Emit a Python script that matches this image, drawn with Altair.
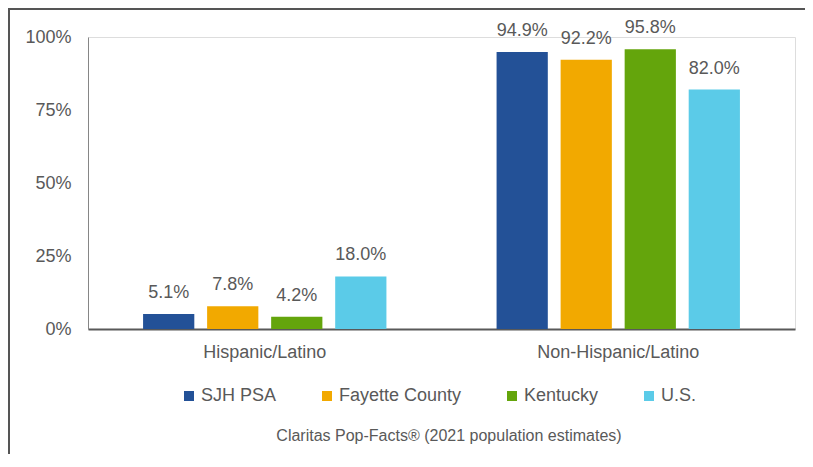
import altair as alt
import pandas as pd

categories = ["Hispanic/Latino", "Non-Hispanic/Latino"]
series = ["SJH PSA", "Fayette County", "Kentucky", "U.S."]
colors = ["#235197", "#F2A900", "#64A50C", "#5BCBE8"]
hispanic = [5.1, 7.8, 4.2, 18.0]
non_hispanic = [94.9, 92.2, 95.8, 82.0]
y_ticks = [0, 25, 50, 75, 100]
source_note = "Claritas Pop-Facts® (2021 population estimates)"

rows = []
for s, h, n in zip(series, hispanic, non_hispanic):
    rows.append({"category": categories[0], "series": s, "value": h})
    rows.append({"category": categories[1], "series": s, "value": n})
df = pd.DataFrame(rows)

W, H = 707, 292
GRAY = "#595959"

base = alt.Chart(df).encode(
    x=alt.X("category:N", sort=categories, title=None,
            scale=alt.Scale(paddingInner=0, paddingOuter=0),
            axis=alt.Axis(labelAngle=0, labelFontSize=18, labelColor=GRAY,
                          labelPadding=14, ticks=False, domainColor=GRAY,
                          domainWidth=2)),
    xOffset=alt.XOffset("series:N", sort=series,
                        scale=alt.Scale(paddingInner=0.2, paddingOuter=0.86)),
    y=alt.Y("value:Q", title=None,
            scale=alt.Scale(domain=[0, 100], nice=False),
            axis=alt.Axis(values=y_ticks, labelExpr="datum.value + '%'",
                          grid=False, ticks=False, labelFontSize=18,
                          labelColor=GRAY, labelPadding=17,
                          domainColor="#868686", domainWidth=1)),
)

bars = base.mark_bar().encode(
    color=alt.Color("series:N", sort=series, title=None,
                    scale=alt.Scale(domain=series, range=colors),
                    legend=alt.Legend(orient="none", legendX=92, legendY=350,
                                      direction="horizontal", symbolType="square",
                                      symbolSize=100, symbolStrokeWidth=0,
                                      labelFontSize=18, labelColor=GRAY,
                                      columnPadding=41, labelOffset=3, padding=0))
)

labels = base.transform_calculate(
    label="format(datum.value, '.1f') + '%'"
).mark_text(fontSize=18, color=GRAY, baseline="alphabetic", dy=-16).encode(
    text="label:N"
)

one = pd.DataFrame({"a": [0]})
left_border = alt.Chart(one).mark_rule(color="#555555", strokeWidth=2).encode(
    x=alt.value(-79), y=alt.value(-29), y2=alt.value(H + 130)
)
top_border = alt.Chart(one).mark_rule(color="#555555", strokeWidth=2).encode(
    x=alt.value(-80), x2=alt.value(W + 10), y=alt.value(-28)
)
note = alt.Chart(one).mark_text(fontSize=16, color=GRAY, align="center",
                                baseline="alphabetic").encode(
    x=alt.value(361), y=alt.value(404), text=alt.value(source_note)
)

chart = alt.layer(bars, labels, left_border, top_border, note).properties(
    width=W, height=H,
    autosize=alt.AutoSizeParams(type="none"),
    padding={"left": 80, "top": 29, "right": 10, "bottom": 125},
).configure_view(stroke=None).configure(font="Liberation Sans")

chart.save("out.html", embed_options={"renderer": "svg", "actions": False})
